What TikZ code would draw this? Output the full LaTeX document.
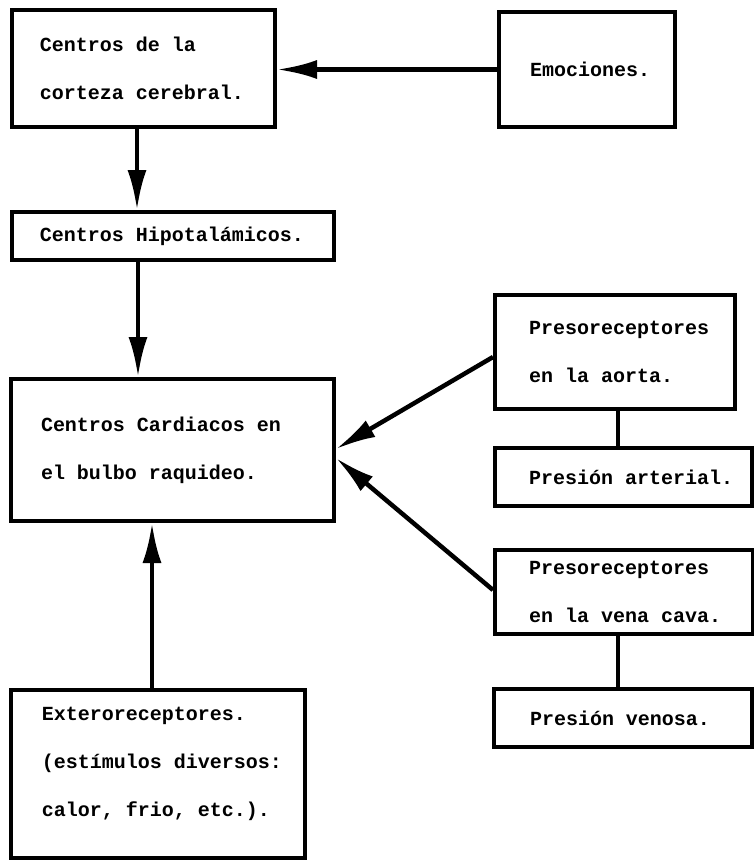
\documentclass[tikz,border=0pt]{standalone}
\usepackage{fontspec}
\setmonofont{Liberation Mono}
\usepackage{tikz}
\usetikzlibrary{arrows.meta}
\usetikzlibrary{positioning}

\begin{document}
\begin{tikzpicture}[x=1pt, y=-1pt,
        caja/.style={draw, line width=4pt, anchor=north west, align=left,
            inner sep=0pt, font=\ttfamily\bfseries\fontsize{20}{48}\selectfont,
            execute at begin node={\spaceskip=0.6em\xspaceskip=0.6em}},
        sangria/.style={execute at begin node={\leftskip=#1}},
        flecha/.style={line width=4.5pt, -{Latex[length=40pt, width=19pt]}},
        enlace/.style={line width=4.5pt}]
                \useasboundingbox (0,0) rectangle (753,860);
                % Cajas de la izquierda
                \node[caja, sangria=28pt, text width=263pt, minimum height=117pt] (corteza) at (10,8) {Centros de la\\corteza cerebral.};
                \node[caja, sangria=28pt, text width=322pt, minimum height=48pt] (hipot) at (10,210) {Centros Hipotalámicos.};
                \node[caja, sangria=30pt, text width=323pt, minimum height=142pt] (cardiacos) at (9,377) {Centros Cardiacos en\\el bulbo raquideo.};
                \node[caja, sangria=31pt, text width=294pt, minimum height=168pt, text depth=120pt] (extero) at (9,688) {Exteroreceptores.\\(estímulos diversos:\\calor, frio, etc.).};
                % Cajas de la derecha
                \node[caja, sangria=31pt, text width=176pt, minimum height=115pt] (emociones) at (497,10) {Emociones.};
                \node[caja, sangria=34pt, text width=240pt, minimum height=114pt] (aorta) at (493,293) {Presoreceptores\\en la aorta.};
                \node[caja, sangria=34pt, text width=257pt, minimum height=58pt] (arterial) at (493,446) {Presión arterial.};
                \node[caja, sangria=34pt, text width=258pt, minimum height=84pt] (venacava) at (493,548) {Presoreceptores\\en la vena cava.};
                \node[caja, sangria=36pt, text width=258pt, minimum height=58pt] (venosa) at (492,687) {Presión venosa.};
                % Flechas
                \draw[flecha] (emociones.west) -- (corteza.east |- emociones.west);
                \draw[flecha] ([xshift=127pt]corteza.south west) -- ([xshift=127pt]hipot.north west);
                \draw[flecha] ([xshift=128pt]hipot.south west) -- ([xshift=129pt]cardiacos.north west);
                \draw[flecha] ([xshift=143pt]extero.north west) -- ([xshift=143pt]cardiacos.south west);
                \draw[flecha] ([yshift=-5pt]aorta.west) -- ([yshift=1pt]cardiacos.east);
                \draw[flecha] ([yshift=2pt]venacava.west) -- ([yshift=-8pt]cardiacos.east);
                % Enlaces sin punta
                \draw[enlace] ([xshift=125pt]aorta.south west) -- ([xshift=125pt]arterial.north west);
                \draw[enlace] ([xshift=125pt]venacava.south west) -- ([xshift=126pt]venosa.north west);
            \end{tikzpicture}
\end{document}
